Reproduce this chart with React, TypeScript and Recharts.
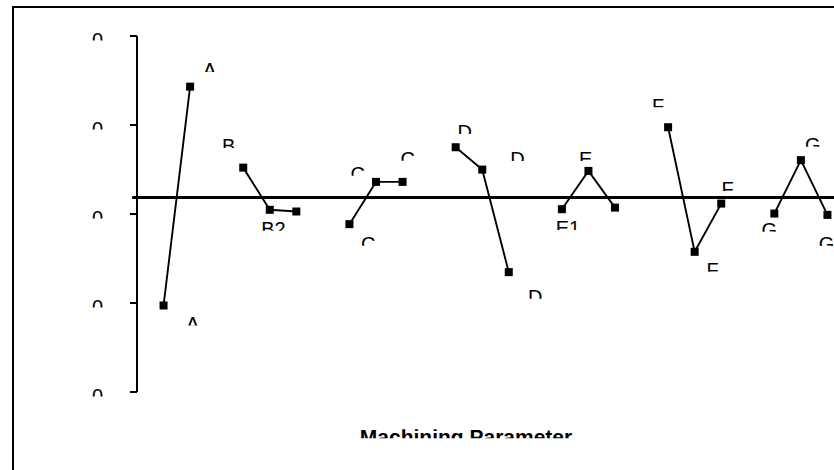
import React from "react";
import { ComposedChart, Line, XAxis, YAxis, ReferenceLine, Customized } from "recharts";

// ---- data ----
const levelNames = ["A1", "A2", "B1", "B2", "B3", "C1", "C2", "C3", "D1", "D2", "D3", "E1", "E2", "E3", "F1", "F2", "F3", "G1", "G2", "G3"];
const levelSlots = [1, 2, 4, 5, 6, 8, 9, 10, 12, 13, 14, 16, 17, 18, 20, 21, 22, 24, 25, 26];
const responses = [-10.28, 14.31, 5.21, 0.47, 0.28, -1.14, 3.61, 3.61, 7.5, 4.99, -6.53, 0.54, 4.84, 0.72, 9.75, -4.25, 1.17, 0.05, 6.05, -0.1];
const pointLabels = ["A", "A", "B", "B2", "", "C", "C", "C", "D", "D", "D", "E1", "E", "", "F", "F", "F", "G", "G", "G"];
const overallMean = 1.85;
const yTicks = [-20, -10, 0, 10, 20];
const yTickLabels = ["0", "0", "0", "0", "0"];
const axisTitle = "Machining Parameter";

// ---- layout (label placement relative to each point: dx, dy to visible top) ----
const labelOffsets: [number, number][] = [
  [29, 11], [19.5, -23.7], [-14.5, -28.7], [3.7, 12], [0, 0],
  [18.7, 12.7], [-18.3, -15], [5.3, -30],
  [9, -22.3], [35.3, -17.7], [26.5, 17.7],
  [6, 11.7], [-2.7, -19], [0, 0],
  [-10, -29], [18, 11], [6.3, -21.7],
  [-5, 9.3], [12, -22.3], [-1, 22],
];

const FONT = "Liberation Sans, Arial, Helvetica, sans-serif";

const data: { x: number; y: number | null; idx: number; name: string }[] = [];
for (let s = 1; s <= 26; s++) {
  const i = levelSlots.indexOf(s);
  data.push({ x: s, y: i >= 0 ? responses[i] : null, idx: i, name: i >= 0 ? levelNames[i] : "" });
}

function ClippedText(props: { cx: number; top: number; text: string; size: number; bold?: boolean; visible: number }) {
  const { cx, top, text, size, bold, visible } = props;
  const w = 300;
  return (
    <svg x={cx - w / 2} y={top} width={w} height={visible} overflow="hidden">
      <text
        x={w / 2}
        y={size * 0.716}
        textAnchor="middle"
        fontSize={size}
        fontFamily={FONT}
        fontWeight={bold ? 700 : 400}
        fill="#000"
      >
        {text}
      </text>
    </svg>
  );
}

const renderDot = (p: any) => {
  const key = `dot-${p.index}`;
  if (p.cx == null || p.cy == null || p.payload == null || p.payload.y == null) return <g key={key} />;
  const i = p.payload.idx;
  const txt = pointLabels[i];
  const [dx, dy] = labelOffsets[i];
  return (
    <g key={key}>
      <rect x={p.cx - 4} y={p.cy - 4} width={8} height={8} fill="#000" />
      {txt ? <ClippedText cx={p.cx + dx} top={p.cy + dy} text={txt} size={20} visible={9} /> : null}
    </g>
  );
};

const renderTick = (p: any) => {
  const i = yTicks.indexOf(p.payload.value);
  const label = i >= 0 ? yTickLabels[i] : "";
  return <ClippedText cx={p.x - 30.5} top={p.y - 3} text={label} size={20} visible={7.5} />;
};

const Title = () => <ClippedText cx={466} top={429.3} text={axisTitle} size={21} bold visible={9} />;

export default function App() {
  return (
    <div style={{ position: "absolute", left: 0, top: 0, width: 834, height: 470, overflow: "hidden", background: "#fff" }}>
      <div
        style={{
          position: "absolute",
          left: 12,
          top: 6,
          width: 900,
          height: 520,
          border: "2px solid #000",
        }}
      />
      <div style={{ position: "absolute", left: 0, top: 0 }}>
        <ComposedChart width={854} height={470} data={data} margin={{ top: 36, right: 0, bottom: 78, left: 0 }}>
          <XAxis dataKey="x" type="number" domain={[0, 27]} hide height={0} />
          <YAxis
            type="number"
            domain={[-20, 20]}
            ticks={yTicks}
            width={137}
            tickSize={7}
            axisLine={{ stroke: "#000", strokeWidth: 2 }}
            tickLine={{ stroke: "#000", strokeWidth: 2 }}
            tick={renderTick}
            interval={0}
          />
          <ReferenceLine
            segment={[{ x: -0.18, y: overallMean }, { x: 27, y: overallMean }]}
            stroke="#000"
            strokeWidth={3}
            ifOverflow="visible"
          />
          <Line
            dataKey="y"
            stroke="#000"
            strokeWidth={1.9}
            dot={renderDot}
            activeDot={false}
            connectNulls={false}
            isAnimationActive={false}
          />
          <Customized component={Title} />
        </ComposedChart>
      </div>
    </div>
  );
}
